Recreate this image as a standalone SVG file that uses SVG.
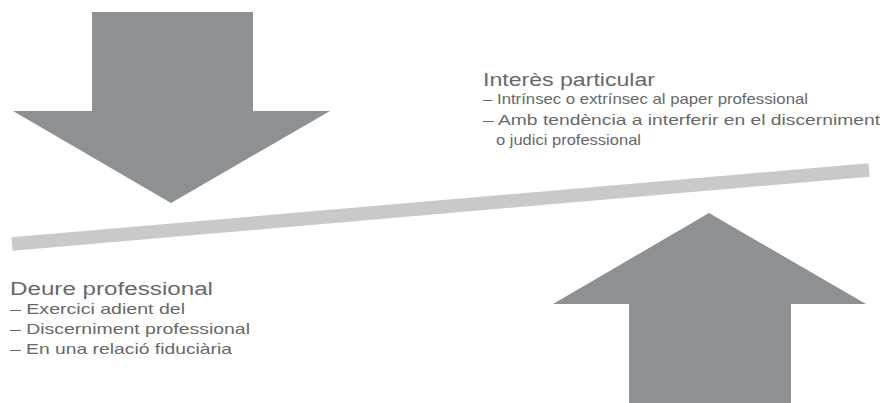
<svg xmlns="http://www.w3.org/2000/svg" width="886" height="403" viewBox="0 0 886 403">
<style>
.arrow{fill:#8e9193}
.bar{stroke:#c9c9c9;stroke-width:13.5;stroke-linecap:butt;fill:none}
.t{font-family:"Liberation Sans",Arial,sans-serif;fill:#686868}
.h{font-size:18px}
.s{font-size:14.5px}
</style>
<rect width="886" height="403" fill="#ffffff"/>
<g id="connectors">
<line class="bar" x1="12" y1="244" x2="869" y2="170"/>
</g>
<g id="arrow-down">
<polygon class="arrow" points="92,12 253,12 253,111 330,111 171,203 13,111 92,111"/>
</g>
<g id="arrow-up">
<polygon class="arrow" points="709,213 866,304 791,304 791,403 629,403 629,304 553,304"/>
</g>
<g id="interes">
<text class="t h" x="483" y="86" textLength="172" lengthAdjust="spacingAndGlyphs">Interès particular</text>
<text class="t s" x="483" y="104" textLength="325" lengthAdjust="spacingAndGlyphs">– Intrínsec o extrínsec al paper professional</text>
<text class="t s" x="483" y="125" textLength="397" lengthAdjust="spacingAndGlyphs">– Amb tendència a interferir en el discerniment</text>
<text class="t s" x="496" y="145" textLength="145" lengthAdjust="spacingAndGlyphs">o judici professional</text>
</g>
<g id="deure">
<text class="t h" x="10" y="295" textLength="203" lengthAdjust="spacingAndGlyphs">Deure professional</text>
<text class="t s" x="10" y="314" textLength="175" lengthAdjust="spacingAndGlyphs">– Exercici adient del</text>
<text class="t s" x="10" y="334" textLength="240" lengthAdjust="spacingAndGlyphs">– Discerniment professional</text>
<text class="t s" x="10" y="354" textLength="222" lengthAdjust="spacingAndGlyphs">– En una relació fiduciària</text>
</g>
</svg>
